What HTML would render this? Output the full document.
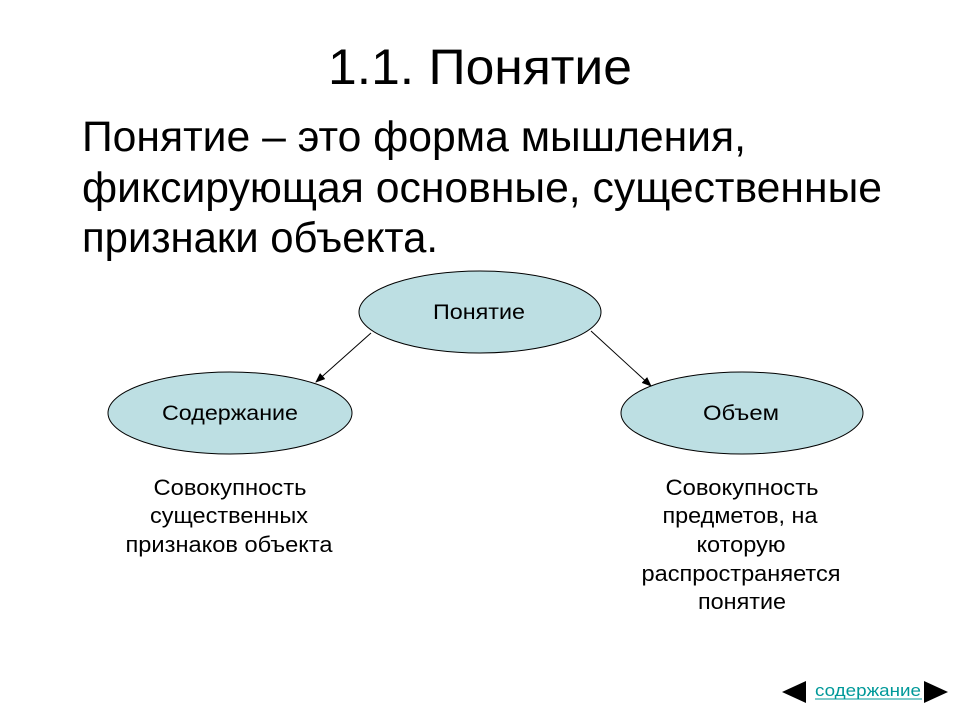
<!DOCTYPE html>
<html><head><meta charset="utf-8"><style>
html,body{margin:0;padding:0;background:#fff;}
svg{display:block;}
text{font-family:"Liberation Sans",Arial,sans-serif;fill:#000;}
</style></head><body>
<svg width="960" height="720" viewBox="0 0 960 720" xmlns="http://www.w3.org/2000/svg">
<defs><marker id="a" markerWidth="10" markerHeight="8" refX="9" refY="4" orient="auto" markerUnits="userSpaceOnUse"><path d="M0,0 L10,4 L0,8 Z" fill="#000"/></marker></defs>
<text x="480" y="84" font-size="50" text-anchor="middle" textLength="304" lengthAdjust="spacingAndGlyphs">1.1. Понятие</text>
<text x="82" y="151" font-size="43" textLength="664" lengthAdjust="spacingAndGlyphs">Понятие – это форма мышления,</text>
<text x="82" y="202" font-size="43" textLength="800" lengthAdjust="spacingAndGlyphs">фиксирующая основные, существенные</text>
<text x="82" y="252" font-size="43" textLength="356" lengthAdjust="spacingAndGlyphs">признаки объекта.</text>
<ellipse cx="480" cy="312" rx="121" ry="41" fill="#bddfe3" stroke="#000" stroke-width="1"/>
<ellipse cx="230" cy="413" rx="122" ry="41" fill="#bddfe3" stroke="#000" stroke-width="1"/>
<ellipse cx="742" cy="413" rx="121" ry="41" fill="#bddfe3" stroke="#000" stroke-width="1"/>
<text x="479" y="319" font-size="21" text-anchor="middle" textLength="92" lengthAdjust="spacingAndGlyphs">Понятие</text>
<text x="230" y="420" font-size="21" text-anchor="middle" textLength="136" lengthAdjust="spacingAndGlyphs">Содержание</text>
<text x="741" y="420" font-size="21" text-anchor="middle" textLength="76" lengthAdjust="spacingAndGlyphs">Объем</text>
<line x1="371" y1="333" x2="316" y2="382" stroke="#000" stroke-width="1" marker-end="url(#a)"/>
<line x1="591" y1="331" x2="651" y2="386" stroke="#000" stroke-width="1" marker-end="url(#a)"/>
<g font-size="22" text-anchor="middle" lengthAdjust="spacingAndGlyphs">
<text x="230" y="495" textLength="153" lengthAdjust="spacingAndGlyphs">Совокупность</text>
<text x="229" y="523" textLength="158" lengthAdjust="spacingAndGlyphs">существенных</text>
<text x="229" y="552" textLength="207" lengthAdjust="spacingAndGlyphs">признаков объекта</text>
<text x="742" y="495" textLength="153" lengthAdjust="spacingAndGlyphs">Совокупность</text>
<text x="740" y="523" textLength="155" lengthAdjust="spacingAndGlyphs">предметов, на</text>
<text x="741" y="552" textLength="89" lengthAdjust="spacingAndGlyphs">которую</text>
<text x="741" y="581" textLength="199" lengthAdjust="spacingAndGlyphs">распространяется</text>
<text x="742" y="609" textLength="88" lengthAdjust="spacingAndGlyphs">понятие</text>
</g>
<polygon points="782,692 806,681 806,703" fill="#000"/>
<polygon points="948,692 924,681 924,703" fill="#000"/>
<text x="868" y="696" font-size="17" text-anchor="middle" style="fill:#009999" textLength="106" lengthAdjust="spacingAndGlyphs">содержание</text>
<line x1="815" y1="699" x2="922" y2="699" stroke="#009999" stroke-width="1"/>
</svg>
</body></html>
